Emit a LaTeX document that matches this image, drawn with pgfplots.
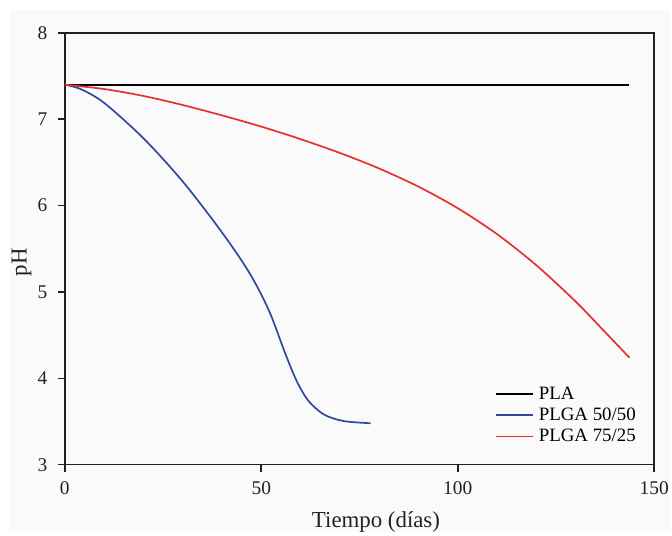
\documentclass[border=0pt]{standalone}
\usepackage{fontspec}
\setmainfont{Liberation Serif}
\usepackage{pgfplots}
\pgfplotsset{compat=1.18}
\definecolor{bgg}{HTML}{FAFAFA}
\definecolor{axc}{HTML}{222222}
\definecolor{cblue}{HTML}{2E4A9E}
\definecolor{cred}{HTML}{E8302E}
\begin{document}
\begin{tikzpicture}
\fill[white] (-65bp,-71bp) rectangle (607bp,466bp);
\fill[bgg] (-55bp,-67bp) rectangle (607bp,456bp);
\begin{axis}[
  scale only axis,
  width=591bp, height=433bp,
  xmin=0, xmax=150, ymin=3, ymax=8,
  xtick={0,50,100,150}, ytick={3,4,5,6,7,8},
  minor tick num=0,
  xtick pos=lower, ytick pos=left,
  tick align=outside,
  major tick length=7bp,
  axis line style={axc, line width=1.6bp},
  every tick/.style={axc, line width=1.6bp},
  /pgf/number format/assume math mode=true,
  tick label style={font=\fontsize{19.5}{20}\selectfont, text=axc},
  yticklabel style={xshift=-7bp},
  xticklabel style={yshift=-6bp},
  label style={font=\fontsize{23}{24}\selectfont, text=axc},
  xlabel={Tiempo (días)},
  ylabel={pH},
  xlabel style={at={(axis description cs:0.528,-0.1455)}, anchor=base},
  ylabel style={at={(axis description cs:-0.0733,0.469)}, anchor=center, rotate=0},
  legend style={draw=none, fill=none, at={(axis description cs:0.724,0.1935)}, anchor=north west,
    font=\fontsize{19}{20}\selectfont, row sep=0pt,
    nodes={inner sep=1.5bp, text height=14.3bp, text depth=4bp}},
  legend cell align=left,
  legend image code/.code={\draw[#1] (0bp,0bp) -- (38bp,0bp); \path (41bp,0bp);},
]
\addplot[black, line width=1.7bp] coordinates {(0,7.4) (143.7,7.4)};
\addlegendentry{PLA}
\addplot[cblue, line width=1.7bp, smooth] coordinates {
(0,7.40) (4,7.35) (10,7.19) (20,6.78) (30,6.28) (40,5.69) (47,5.22) (52,4.78)
(56,4.30) (59,3.97) (62,3.74) (66,3.58) (71,3.505) (77.8,3.48)};
\addlegendentry{PLGA 50/50}
\addplot[cred, line width=1.7bp, smooth] coordinates {
(0,7.40) (10,7.35) (20,7.27) (30,7.165) (40,7.045) (50,6.915) (60,6.77) (70,6.61)
(80,6.43) (90,6.22) (100,5.97) (110,5.67) (120,5.31) (130,4.89) (137,4.56) (143.7,4.24)};
\addlegendentry{PLGA 75/25}
\end{axis}
\end{tikzpicture}
\end{document}
